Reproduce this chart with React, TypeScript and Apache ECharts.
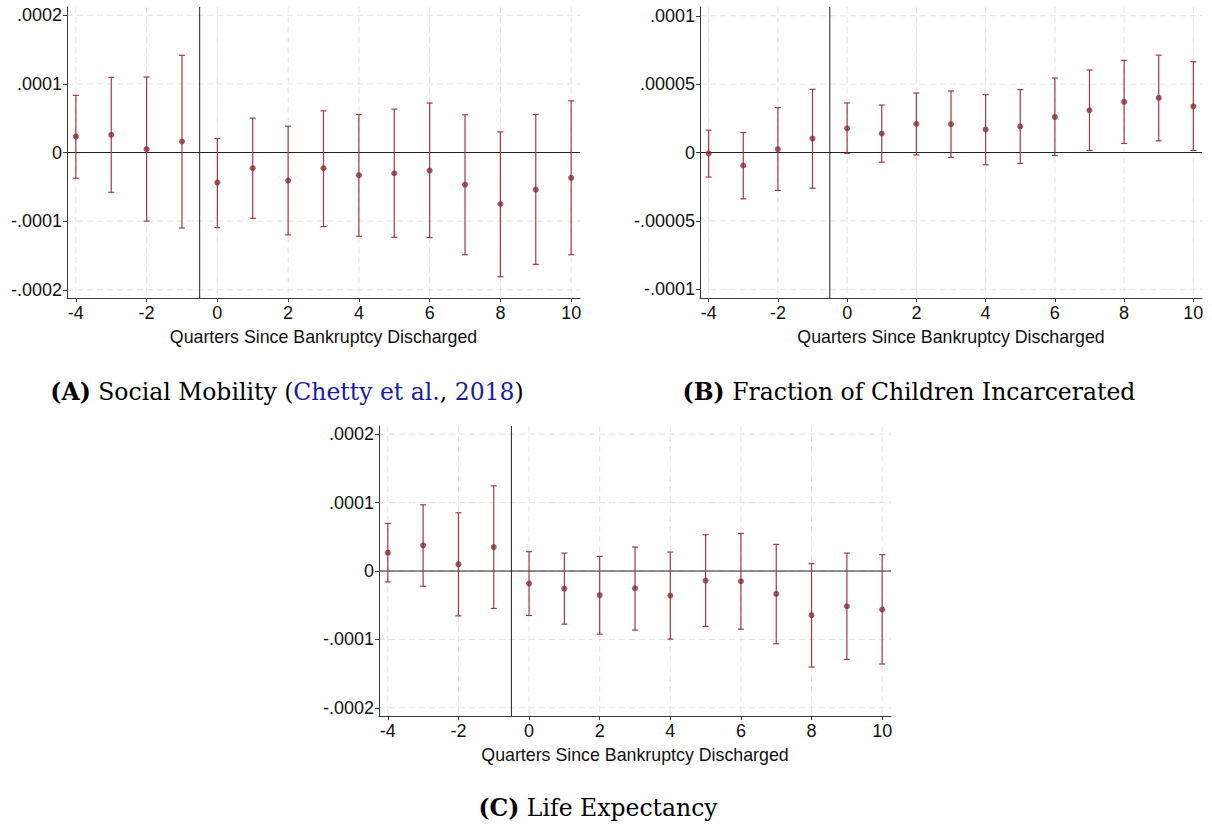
import { useEffect, useRef } from "react";
import * as echarts from "echarts";

// Event time in quarters relative to the bankruptcy discharge
const quarters = [-4, -3, -2, -1, 0, 1, 2, 3, 4, 5, 6, 7, 8, 9, 10];

// (A) Social mobility
const mobilityCoef = [0.0000234, 0.0000257, 0.0000048, 0.000016, -0.0000438, -0.0000229, -0.0000409, -0.0000229, -0.0000331, -0.0000302, -0.0000263, -0.0000467, -0.000075, -0.000054, -0.000037];
const mobilityLow = [-0.0000375, -0.000058, -0.0001, -0.00011, -0.0001095, -0.000096, -0.00012, -0.000108, -0.000122, -0.0001236, -0.000124, -0.000149, -0.000181, -0.000163, -0.000149];
const mobilityHigh = [0.0000832, 0.0001095, 0.00011, 0.0001416, 0.0000204, 0.00005, 0.0000384, 0.0000607, 0.0000555, 0.0000632, 0.000072, 0.0000549, 0.00003, 0.0000555, 0.0000753];

// (B) Fraction of children incarcerated
const incarcCoef = [-0.0000007, -0.0000095, 0.0000024, 0.0000102, 0.0000177, 0.0000139, 0.0000209, 0.0000207, 0.0000168, 0.000019, 0.000026, 0.0000309, 0.000037, 0.0000399, 0.0000338];
const incarcLow = [-0.000018, -0.0000339, -0.0000277, -0.0000261, -0.0000007, -0.0000071, -0.0000018, -0.0000036, -0.000009, -0.000008, -0.0000022, 0.0000015, 0.0000066, 0.0000085, 0.0000015];
const incarcHigh = [0.0000163, 0.0000146, 0.0000328, 0.0000462, 0.0000362, 0.0000347, 0.0000435, 0.000045, 0.0000423, 0.000046, 0.0000545, 0.0000603, 0.0000674, 0.0000712, 0.0000664];

// (C) Life expectancy
const lifeCoef = [0.0000268, 0.0000375, 0.0000098, 0.000035, -0.0000184, -0.0000257, -0.0000354, -0.0000252, -0.0000359, -0.000014, -0.000015, -0.0000335, -0.0000646, -0.0000515, -0.0000563];
const lifeLow = [-0.000016, -0.0000223, -0.0000656, -0.0000548, -0.000065, -0.0000777, -0.0000923, -0.0000864, -0.0000996, -0.000081, -0.000085, -0.0001064, -0.0001404, -0.0001292, -0.000136];
const lifeHigh = [0.0000695, 0.0000968, 0.0000851, 0.0001245, 0.0000283, 0.0000262, 0.0000214, 0.000035, 0.0000277, 0.000053, 0.000055, 0.0000389, 0.0000107, 0.0000262, 0.0000239];

// Axis ticks
const xTicks = [-4, -2, 0, 2, 4, 6, 8, 10];
const yTicksWide = [-0.0002, -0.0001, 0, 0.0001, 0.0002];
const yTicksNarrow = [-0.0001, -0.00005, 0, 0.00005, 0.0001];

const xAxisTitle = "Quarters Since Bankruptcy Discharged";
const dischargeLine = -0.5;

const pointColor = "#8c2a34";
const barColor = "#a23a46";
const axisColor = "#3a3a3a";
const gridColor = "#e4e4e4";
const sansFont = "'Liberation Sans', Arial, sans-serif";
const serifFont = "'DejaVu Serif', 'Liberation Serif', serif";

// Stata-style numeric labels: ".0001", "-.00005", "0"
const stataLabel = (v: number): string => {
  if (Math.abs(v) < 1e-12) return "0";
  let s = Math.abs(v).toFixed(6).replace(/0+$/, "");
  s = s.replace(/^0/, "");
  return (v < 0 ? "-" : "") + s;
};

type Panel = {
  coef: number[];
  low: number[];
  high: number[];
  yTicks: number[];
  yPad: number;
  grid: { left: number; top: number; width: number; height: number };
};

const panels: Panel[] = [
  { coef: mobilityCoef, low: mobilityLow, high: mobilityHigh, yTicks: yTicksWide, yPad: 0.000012, grid: { left: 67, top: 7, width: 513, height: 291 } },
  { coef: incarcCoef, low: incarcLow, high: incarcHigh, yTicks: yTicksNarrow, yPad: 0.0000064, grid: { left: 700, top: 7, width: 502, height: 291 } },
  { coef: lifeCoef, low: lifeLow, high: lifeHigh, yTicks: yTicksWide, yPad: 0.000012, grid: { left: 379, top: 426, width: 512, height: 290 } },
];

export default function App() {
  const ref = useRef<HTMLDivElement>(null);

  useEffect(() => {
    if (!ref.current) return;
    const chart = echarts.init(ref.current, undefined, { renderer: "svg" });

    const grids: any[] = [];
    const xAxes: any[] = [];
    const yAxes: any[] = [];
    const series: any[] = [];

    panels.forEach((p, i) => {
      grids.push({ ...p.grid, containLabel: false });
      const yMin = p.yTicks[0] - p.yPad;
      const yMax = p.yTicks[p.yTicks.length - 1] + p.yPad;

      xAxes.push({
        type: "value",
        gridIndex: i,
        min: -4.25,
        max: 10.25,
        name: xAxisTitle,
        nameLocation: "middle",
        nameGap: 30,
        nameTextStyle: { fontFamily: sansFont, fontSize: 17.8, color: "#111" },
        axisLine: { show: true, onZero: false, lineStyle: { color: axisColor, width: 1 } },
        axisTick: { show: true, length: 4, customValues: xTicks, lineStyle: { color: axisColor } },
        axisLabel: { customValues: xTicks, margin: 6, fontFamily: sansFont, fontSize: 18, color: "#111", formatter: (v: number) => String(v) },
        splitLine: { show: false },
        z: 10,
      });

      yAxes.push({
        type: "value",
        gridIndex: i,
        min: yMin,
        max: yMax,
        axisLine: { show: true, onZero: false, lineStyle: { color: axisColor, width: 1 } },
        axisTick: { show: true, length: 4, customValues: p.yTicks, lineStyle: { color: axisColor } },
        axisLabel: { customValues: p.yTicks, margin: 5, fontFamily: sansFont, fontSize: 18, color: "#111", formatter: stataLabel },
        splitLine: { show: false },
        z: 10,
      });

      // Background: dashed grid at labelled ticks, then the zero line and the discharge line
      series.push({
        type: "custom",
        xAxisIndex: i,
        yAxisIndex: i,
        silent: true,
        z: 1,
        data: [[0, 0]],
        renderItem: (params: any, api: any) => {
          const cs = params.coordSys;
          const left = cs.x;
          const right = cs.x + cs.width;
          const top = cs.y;
          const bottom = cs.y + cs.height;
          const dash = { stroke: gridColor, lineWidth: 1, lineDash: [6, 4] };
          const children: any[] = [];
          xTicks.forEach((t) => {
            const px = api.coord([t, 0])[0];
            children.push({ type: "line", shape: { x1: px, y1: top, x2: px, y2: bottom }, style: dash });
          });
          p.yTicks.forEach((t) => {
            const py = api.coord([0, t])[1];
            children.push({ type: "line", shape: { x1: left, y1: py, x2: right, y2: py }, style: dash });
          });
          const zeroY = api.coord([0, 0])[1];
          const dischargeX = api.coord([dischargeLine, 0])[0];
          const solid = { stroke: "#222", lineWidth: 1 };
          children.push({ type: "line", shape: { x1: left, y1: zeroY, x2: right, y2: zeroY }, style: solid });
          children.push({ type: "line", shape: { x1: dischargeX, y1: top, x2: dischargeX, y2: bottom }, style: solid });
          return { type: "group", children };
        },
      });

      // Confidence intervals
      series.push({
        type: "custom",
        xAxisIndex: i,
        yAxisIndex: i,
        z: 3,
        silent: true,
        encode: { x: 0, y: [1, 2] },
        data: quarters.map((q, k) => [q, p.low[k], p.high[k]]),
        renderItem: (_params: any, api: any) => {
          const x = api.value(0);
          const top = api.coord([x, api.value(2)]);
          const bot = api.coord([x, api.value(1)]);
          const cap = 3;
          const style = { stroke: barColor, lineWidth: 1.2 };
          return {
            type: "group",
            children: [
              { type: "line", shape: { x1: top[0], y1: top[1], x2: bot[0], y2: bot[1] }, style },
              { type: "line", shape: { x1: top[0] - cap, y1: top[1], x2: top[0] + cap, y2: top[1] }, style },
              { type: "line", shape: { x1: bot[0] - cap, y1: bot[1], x2: bot[0] + cap, y2: bot[1] }, style },
            ],
          };
        },
      });

      // Point estimates
      series.push({
        type: "scatter",
        xAxisIndex: i,
        yAxisIndex: i,
        z: 4,
        symbol: "circle",
        symbolSize: 6,
        itemStyle: { color: pointColor },
        data: quarters.map((q, k) => [q, p.coef[k]]),
      });
    });

    const fs = 23.5;
    const captionRich = {
      b: { fontFamily: serifFont, fontSize: fs, fontWeight: "bold", fill: "#000" },
      t: { fontFamily: serifFont, fontSize: fs, fill: "#000" },
      l: { fontFamily: serifFont, fontSize: fs, fill: "#1a1aa6" },
    };

    chart.setOption({
      animation: false,
      backgroundColor: "#ffffff",
      grid: grids,
      xAxis: xAxes,
      yAxis: yAxes,
      series,
      graphic: [
        {
          type: "text",
          x: 287,
          y: 392,
          style: {
            text: "{b|(A)}{t| Social Mobility (}{l|Chetty et al.}{t|, }{l|2018}{t|)}",
            rich: captionRich,
            align: "center",
            verticalAlign: "middle",
          },
        },
        {
          type: "text",
          x: 909,
          y: 392,
          style: {
            text: "{b|(B)}{t| Fraction of Children Incarcerated}",
            rich: captionRich,
            align: "center",
            verticalAlign: "middle",
          },
        },
        {
          type: "text",
          x: 598,
          y: 808,
          style: {
            text: "{b|(C)}{t| Life Expectancy}",
            rich: captionRich,
            align: "center",
            verticalAlign: "middle",
          },
        },
      ],
    });

    return () => chart.dispose();
  }, []);

  return (
    <div
      ref={ref}
      style={{ position: "fixed", left: 0, top: 0, width: 1212, height: 825, background: "#fff" }}
    />
  );
}
